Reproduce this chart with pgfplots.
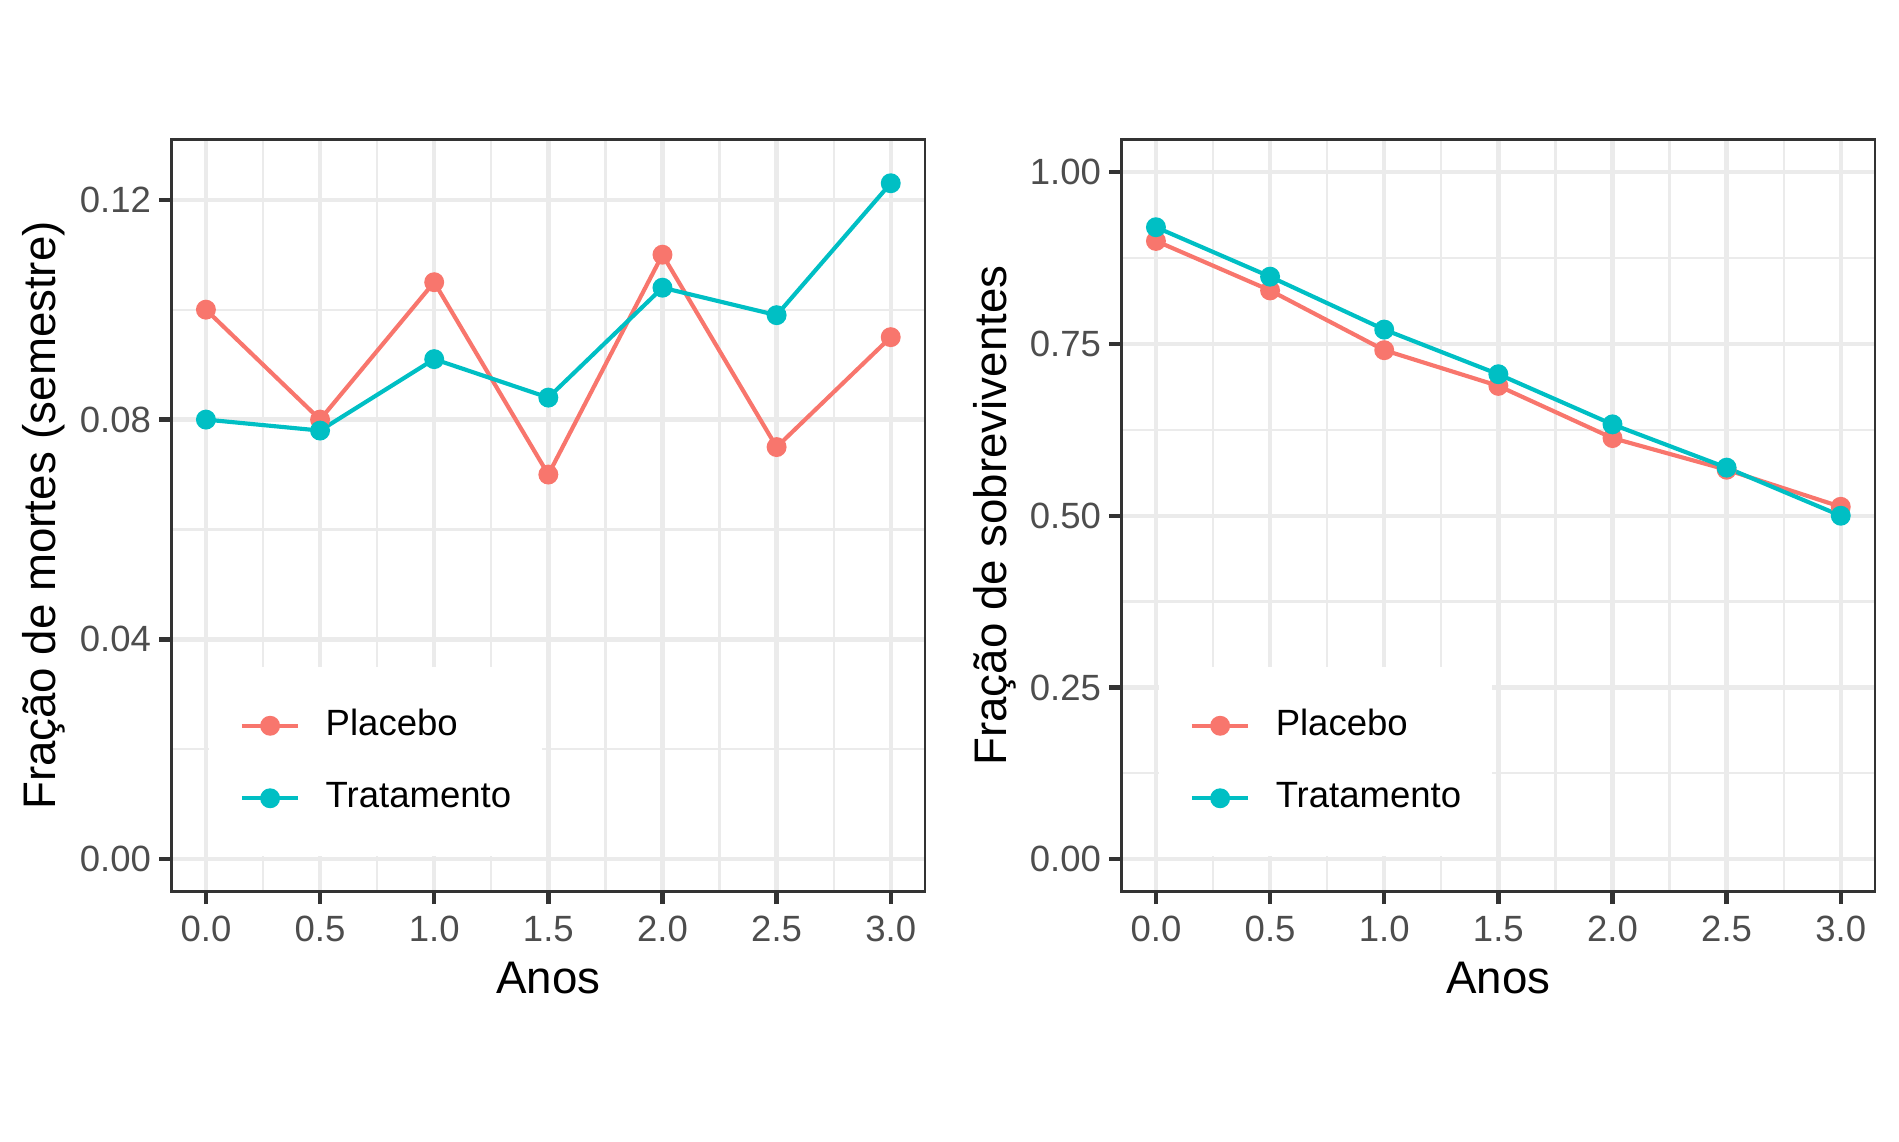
\documentclass[border=0pt]{standalone}
\usepackage{fontspec}
\setmainfont{Liberation Sans}
\usepackage{pgfplots}
\pgfplotsset{compat=1.18}

\definecolor{placebo}{HTML}{F8766D}
\definecolor{tratamento}{HTML}{00BFC4}
\definecolor{gridgray}{HTML}{EBEBEB}
\definecolor{framegray}{HTML}{333333}
\definecolor{ticklab}{HTML}{4D4D4D}

\pgfplotsset{
  panel/.style={
    scale only axis,
    width=181.47pt, height=181.25pt,
    anchor=south west,
    xmin=-0.15, xmax=3.15,
    xtick={0,0.5,1,1.5,2,2.5,3},
    xticklabels={0.0,0.5,1.0,1.5,2.0,2.5,3.0},
    minor xtick={0.25,0.75,1.25,1.75,2.25,2.75},
    grid=both,
    major grid style={draw=gridgray, line width=1.07pt},
    minor grid style={draw=gridgray, line width=0.53pt},
    tick align=outside,
    xtick pos=bottom, ytick pos=left,
    major tick length=3pt, minor tick length=0pt,
    every tick/.style={framegray, line width=1.07pt},
    axis line style={framegray, line width=0.6pt},
    tick label style={font=\fontsize{8.8}{10.5}\selectfont, text=ticklab, inner sep=0pt},
    xticklabel style={anchor=north, yshift=-2.65pt},
    yticklabel style={anchor=east, xshift=-1.8pt},
    label style={font=\fontsize{11}{13}\selectfont, text=black, inner sep=0pt},
    xlabel={Anos},
    xlabel style={at={(axis description cs:0.5,-0.135)}, anchor=base},
    ylabel style={at={(axis description cs:-0.1536,0.5)}, anchor=base},
    legend cell align=left,
    legend style={
      at={(0.048,0.0465)}, anchor=south west,
      draw=none, fill=white,
      inner xsep=7.5pt, inner ysep=10.1pt,
      row sep=9.75pt, column sep=6.1pt,
      font=\fontsize{8.8}{10.5}\selectfont,
      nodes={inner sep=0pt},
    },
    legend image code/.code={
      \draw[sharp plot, mark=none, line width=1pt] (0pt,0pt) -- (13.6pt,0pt);
      \draw plot coordinates {(6.8pt,0pt)};
    },
  },
  serie line/.style={#1, line width=1pt, mark=none, forget plot},
  serie marks/.style={#1, only marks, mark=*, mark size=2.2pt, line width=0.4pt},
}

\begin{document}
\begin{tikzpicture}
\useasboundingbox (0,0) rectangle (457.47pt,275.11pt);

% Fração de mortes por semestre
\begin{axis}[panel, at={(41.36pt,60.30pt)},
  ymin=-0.0059, ymax=0.1310,
  ytick={0,0.04,0.08,0.12},
  yticklabels={0.00,0.04,0.08,0.12},
  minor ytick={0.02,0.06,0.10},
  ylabel={Fração de mortes (semestre)}]
\addplot[serie line=placebo] coordinates {(0,0.100)(0.5,0.080)(1,0.105)(1.5,0.070)(2,0.110)(2.5,0.075)(3,0.095)};
\addplot[serie line=tratamento] coordinates {(0,0.080)(0.5,0.078)(1,0.091)(1.5,0.084)(2,0.104)(2.5,0.099)(3,0.123)};
\addplot[serie marks=placebo] coordinates {(0,0.100)(0.5,0.080)(1,0.105)(1.5,0.070)(2,0.110)(2.5,0.075)(3,0.095)};
\addplot[serie marks=tratamento] coordinates {(0,0.080)(0.5,0.078)(1,0.091)(1.5,0.084)(2,0.104)(2.5,0.099)(3,0.123)};
\legend{Placebo,Tratamento}
\end{axis}

% Fração de sobreviventes acumulada
\begin{axis}[panel, at={(270.22pt,60.30pt)},
  ymin=-0.0473, ymax=1.048,
  ytick={0,0.25,0.5,0.75,1},
  yticklabels={0.00,0.25,0.50,0.75,1.00},
  minor ytick={0.125,0.375,0.625,0.875},
  ylabel={Fração de sobreviventes}]
\addplot[serie line=placebo] coordinates {(0,0.900)(0.5,0.828)(1,0.741)(1.5,0.689)(2,0.613)(2.5,0.567)(3,0.513)};
\addplot[serie line=tratamento] coordinates {(0,0.920)(0.5,0.848)(1,0.771)(1.5,0.706)(2,0.633)(2.5,0.570)(3,0.500)};
\addplot[serie marks=placebo] coordinates {(0,0.900)(0.5,0.828)(1,0.741)(1.5,0.689)(2,0.613)(2.5,0.567)(3,0.513)};
\addplot[serie marks=tratamento] coordinates {(0,0.920)(0.5,0.848)(1,0.771)(1.5,0.706)(2,0.633)(2.5,0.570)(3,0.500)};
\legend{Placebo,Tratamento}
\end{axis}
\end{tikzpicture}
\end{document}
